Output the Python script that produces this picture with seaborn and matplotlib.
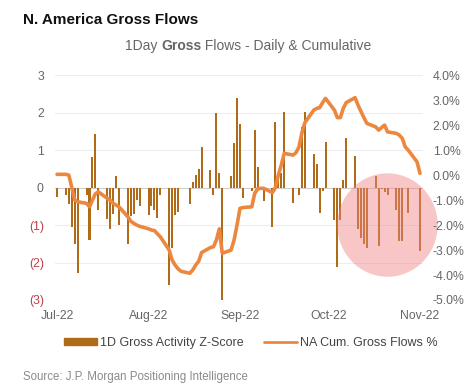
import matplotlib
matplotlib.use("Agg")
import matplotlib.pyplot as plt
import matplotlib.dates as mdates
from matplotlib.patches import Ellipse, Patch
from matplotlib.lines import Line2D
import seaborn as sns
import pandas as pd
import numpy as np

# business days Jul-1 .. Nov-1 2022
dates = pd.bdate_range("2022-07-01", "2022-11-01")

# 1D gross activity z-score (left axis)
zscore = [
    -0.24, -0.20, -0.45, -1.04, -1.50, -2.27, -0.20, -1.40, 0.82, 1.44,
    -0.60, -0.85, -1.10, -0.70, 0.30, -1.00, -1.50, -0.77, -0.70, -0.33,
    -0.50, -0.73, -0.50, -0.60, -0.80, -0.20, -2.60, -1.60, -0.73, -0.64,
    0.00, -0.45, 0.16, 0.33, 0.50, 1.07, 0.48, -0.20, 2.00, 0.38,
    -3.00, 0.30, 1.20, 2.40, 1.70, -0.28, -0.10, 1.53, 0.56, 0.00,
    -0.37, -1.04, 1.75, 0.33, 0.40, 2.03, -0.40, 0.00, -0.20, 1.62,
    2.03, 0.90, 0.62, -0.68, -0.10, 1.22, -0.86, -2.13, -0.86, 0.20,
    1.33, 0.85, -1.10, -1.35, -1.50, -1.60, 0.30, -1.56, -0.05, -0.12,
    -0.20, -0.60, -1.43, -1.43, 0.00, -0.68, 0.00, -1.70,
]

# NA cumulative gross flows in % (right axis)
cum_flows = [
    0.03, 0.03, 0.00, -0.50, -1.00, -1.07, -1.13, -1.27, -1.00, -0.75,
    -0.67, -0.93, -1.00, -1.13, -1.20, -1.27, -1.67, -1.85, -1.93, -2.00,
    -2.05, -2.15, -2.20, -2.22, -2.35, -2.47, -3.00, -3.40, -3.60, -3.75,
    -3.85, -3.93, -3.80, -3.60, -3.45, -3.10, -2.90, -2.87, -2.60, -2.15,
    -3.13, -3.00, -2.60, -2.00, -1.33, -1.30, -1.27, -0.73, -0.55, -0.53,
    -0.53, -0.70, -0.50, 0.00, 0.40, 0.87, 0.80, 0.90, 1.13, 1.70,
    2.10, 2.60, 2.67, 2.70, 2.90, 3.07, 2.60, 2.30, 2.30, 2.67,
    2.90, 3.10, 2.80, 2.55, 2.30, 2.07, 1.93, 1.80, 1.90, 2.00,
    1.73, 1.67, 1.60, 1.47, 1.13, 1.00, 0.53, 0.07,
]

month_ticks = pd.to_datetime(["2022-07-01", "2022-08-01", "2022-09-01", "2022-10-01", "2022-11-01"])
month_labels = ["Jul-22", "Aug-22", "Sep-22", "Oct-22", "Nov-22"]
left_ticks = [3, 2, 1, 0, -1, -2, -3]
left_labels = ["3", "2", "1", "0", "(1)", "(2)", "(3)"]
right_ticks = [4, 3, 2, 1, 0, -1, -2, -3, -4, -5]

# highlighted area (late October selling)
highlight_date = "2022-10-21"
highlight_value = -1.0

BAR = "#B06B18"
LINE = "#EC8740"
GREY = "#666666"
NEG = "#C0404E"

sns.set_style("white")
plt.rcParams["font.family"] = ["Liberation Sans", "DejaVu Sans"]

fig = plt.figure(figsize=(4.76, 3.89), dpi=100)
ax = fig.add_axes([0.1155, 0.2288, 0.773, 0.578])

ax.bar(dates, zscore, width=0.68, color=BAR, linewidth=0, zorder=2)
ax.set_ylim(-3, 3)
ax.set_yticks(left_ticks)
ax.set_yticklabels(left_labels)
for lab, v in zip(ax.get_yticklabels(), left_ticks):
    lab.set_color(NEG if v < 0 else GREY)
ax.yaxis.grid(True, color="#ededed", lw=0.8)
ax.set_axisbelow(True)
ax.axhline(0, color="#cfcfcf", lw=0.8, zorder=1)
ax.tick_params(axis="y", length=0, pad=8, labelsize=8.8)
ax.tick_params(axis="x", length=0, pad=7, labelsize=8.8, labelcolor=GREY)

# pink circle
cx = mdates.date2num(pd.Timestamp(highlight_date))
ax.add_patch(Ellipse((cx, highlight_value), width=34, height=2.76,
                     facecolor="#F08282", alpha=0.45, edgecolor="none",
                     zorder=3, clip_on=False))

ax2 = ax.twinx()
sns.lineplot(x=dates, y=cum_flows, ax=ax2, color=LINE, lw=2.6)
ax2.set_ylim(-5, 4)
ax2.set_yticks(right_ticks)
ax2.set_yticklabels([f"{v:.1f}%" for v in right_ticks])
ax2.tick_params(axis="y", length=0, pad=7, labelsize=8.8, labelcolor=GREY)
ax2.set_ylabel("")

ax.set_xlim(pd.Timestamp("2022-07-01") - pd.Timedelta(days=0.7),
            pd.Timestamp("2022-11-01") + pd.Timedelta(days=1))
ax.set_xticks(month_ticks)
ax.set_xticklabels(month_labels)

for a in (ax, ax2):
    for s in a.spines.values():
        s.set_visible(False)

# titles
fig.text(23 / 476, 1 - 20 / 389, "N. America Gross Flows", fontsize=11,
         fontweight="bold", color="#111111", va="center")

parts = [("1Day ", "normal"), ("Gross", "bold"), (" Flows - Daily & Cumulative", "normal")]
renderer = fig.canvas.get_renderer()
texts = [fig.text(0, 1 - 46 / 389, t, fontsize=10, fontweight=w, color=GREY, va="center")
         for t, w in parts]
widths = [t.get_window_extent(renderer).width for t in texts]
x0 = 248 - sum(widths) / 2
for t, w in zip(texts, widths):
    t.set_x(x0 / 476)
    x0 += w

handles = [Patch(color=BAR), Line2D([], [], color=LINE, lw=2)]
fig.legend(handles, ["1D Gross Activity Z-Score", "NA Cum. Gross Flows %"],
           loc="center", bbox_to_anchor=(251 / 476, 1 - 343 / 389), ncol=2,
           frameon=False, fontsize=9, handlelength=2.6, handleheight=0.5,
           handletextpad=0.3, columnspacing=1.6, labelcolor="#444444")

fig.text(23 / 476, 1 - 377 / 389, "Source: J.P. Morgan Positioning Intelligence",
         fontsize=8.3, color="#8a8a8a", va="center")

fig.savefig("out.png", dpi=100)
